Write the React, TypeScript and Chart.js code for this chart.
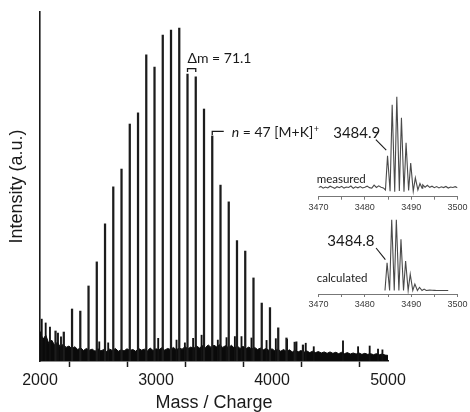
import React, { useEffect, useRef } from "react";
import { Chart, registerables } from "chart.js";
Chart.register(...registerables);

const SANS = '"Liberation Sans", Arial, sans-serif';
const LATO = 'Lato, "Open Sans", sans-serif';
const INK = "#1a1a1a";

// ---------- main spectrum data ----------
const xAxisMin = 2000;
const xAxisMax = 5000;
const xLabelTicks = [2000, 3000, 4000, 5000];

// polymer series (Δm = 71.1), n = 47 at 3484.9
const peakMasses = [
  2134.0, 2205.1, 2276.2, 2347.3, 2418.4, 2489.5, 2560.6, 2631.7, 2702.8, 2773.9,
  2845.0, 2916.1, 2987.2, 3058.3, 3129.4, 3200.5, 3271.6, 3342.7, 3413.8, 3484.9,
  3556.0, 3627.1, 3698.2, 3769.3, 3840.4, 3911.5, 3982.6, 4053.7, 4124.8, 4195.9, 4267.0,
];
const peakHeights = [
  8.6, 8.3, 14.9, 14.3, 21.5, 28.4, 39.3, 49.9, 55.0, 67.9,
  71.1, 87.7, 84.2, 93.4, 94.8, 95.4, 82.2, 81.4, 72.2, 64.5,
  50.4, 45.6, 34.5, 31.5, 23.8, 16.6, 15.3, 9.5, 6.6, 5.4, 4.6,
];

// noise floor (every 25 Da from 2000 to 5000)
const noiseStep = 25;
const noiseLevels = [
  8.5, 6.2, 7.4, 5.1, 6.0, 4.6, 5.4, 4.0, 4.8, 3.9, 4.3, 3.5, 4.1, 3.3, 3.8, 3.0,
  3.6, 3.1, 3.4, 2.8, 3.5, 2.9, 3.3, 2.7, 3.4, 3.0, 3.6, 2.8, 3.2, 2.9, 3.5, 3.0,
  3.3, 2.8, 3.6, 3.1, 3.4, 2.9, 3.7, 3.0, 3.5, 3.2, 3.8, 3.1, 3.6, 3.3, 3.9, 3.2,
  3.7, 3.4, 4.1, 3.5, 4.0, 3.6, 4.3, 3.7, 4.4, 3.8, 4.6, 3.9, 4.5, 4.0, 4.7, 3.9,
  4.4, 3.8, 4.5, 3.7, 4.3, 3.6, 4.2, 3.5, 4.0, 3.4, 3.9, 3.3, 3.7, 3.2, 3.6, 3.0,
  3.5, 2.9, 3.4, 2.8, 3.3, 2.7, 3.2, 2.6, 3.1, 2.6, 3.0, 2.5, 2.9, 2.4, 2.8, 2.4,
  2.7, 2.3, 2.6, 2.2, 2.6, 2.2, 2.5, 2.1, 2.5, 2.1, 2.4, 2.0, 2.3, 2.0, 2.3, 1.9,
  2.2, 1.9, 2.1, 1.8, 2.1, 1.8, 2.0, 1.7, 1.6,
];

// isolated noise spikes above the floor
const spikeMasses = [
  2015, 2049, 2086, 2155, 2181, 2511, 2588, 3019, 3177, 3249, 3320, 3393, 3533,
  3608, 3680, 3737, 3823, 3953, 4033, 4130, 4211, 4291, 4360, 4612, 4742, 4842, 4914, 4952,
];
const spikeHeights = [
  12.0, 10.9, 9.7, 8.0, 6.9, 5.5, 5.2, 6.5, 6.0, 5.2, 6.5, 7.4, 6.0,
  6.7, 7.0, 7.0, 6.6, 5.9, 6.4, 6.2, 5.5, 5.1, 4.1, 5.8, 4.1, 4.3, 3.4, 3.2,
];

const deltaPeakA = 3271.6;
const deltaPeakB = 3342.7;
const deltaLabel = "\u0394m = 71.1";
const nPeakMass = 3484.9;

// ---------- inset data ----------
const insetMin = 3470;
const insetMax = 3500;

const measuredPeakMasses = [3484.9, 3485.9, 3486.9, 3487.9, 3488.9, 3489.9, 3490.9, 3491.9];
const measuredPeakHeights = [36, 91, 100, 77, 50, 28, 12, 6];
const measuredValleys = [-1, -2.5, -3, -2, -3, -1.5, -2.5, -1, 1];
const measuredNoiseStep = 0.5;
const measuredNoiseLeftStart = 3470;
const measuredNoiseLeft = [
  1.5, 2.8, 0.9, 2.2, 1.2, 3.0, 1.8, 0.7, 2.5, 1.4, 2.9, 1.0, 2.1, 1.6, 3.2,
  0.8, 2.4, 1.3, 2.7, 1.1, 2.0, 3.1, 1.5, 0.9, 4.2, 1.7, 3.4, 2.0, 1.2,
];
const measuredNoiseRightStart = 3492.5;
const measuredNoiseRight = [
  4.5, 2.0, 4.0, 1.8, 3.0, 1.5, 2.6, 1.2, 2.4, 1.6, 2.8, 1.1, 2.2, 1.7, 2.5, 1.3,
];

const calculatedPeakMasses = [3484.8, 3485.8, 3486.8, 3487.8, 3488.8, 3489.8, 3490.8, 3491.8, 3492.8];
const calculatedPeakHeights = [39, 100, 100, 72, 41.5, 23, 9, 4.5, 2];
const calculatedValleys = [0, 0, 0, 0, 0, 0, 0, 0, 0, 0];
const calculatedTailStart = 3494;
const calculatedTail = [0.6, 0.3, 0.2, 0.1, 0, 0, 0, 0, 0];
const calculatedTailStep = 0.5;

type Pt = { x: number; y: number };

function buildTrace(
  leftStart: number | null,
  left: number[],
  step: number,
  masses: number[],
  heights: number[],
  valleys: number[],
  rightStart: number,
  right: number[],
  rightStep: number
): Pt[] {
  const pts: Pt[] = [];
  if (leftStart !== null) left.forEach((v, i) => pts.push({ x: leftStart + i * step, y: v }));
  masses.forEach((m, i) => {
    pts.push({ x: m - 0.45, y: valleys[i] });
    pts.push({ x: m, y: heights[i] });
  });
  pts.push({ x: masses[masses.length - 1] + 0.45, y: valleys[masses.length] });
  right.forEach((v, i) => pts.push({ x: rightStart + i * rightStep, y: v }));
  return pts;
}

function makeMain(canvas: HTMLCanvasElement) {
  const noiseData = noiseLevels.map((v, i) => ({ x: xAxisMin + i * noiseStep, y: v }));
  const peakData = peakMasses.map((m, i) => ({ x: m, y: peakHeights[i] }));
  const spikeData = spikeMasses.map((m, i) => ({ x: m, y: spikeHeights[i] }));

  const annotate = {
    id: "annotate",
    afterDatasetsDraw(chart: any) {
      const { ctx, scales } = chart;
      const xs = scales.x;
      const ys = scales.y;
      const ia = peakMasses.indexOf(deltaPeakA);
      const ib = peakMasses.indexOf(deltaPeakB);
      const xa = xs.getPixelForValue(deltaPeakA);
      const xb = xs.getPixelForValue(deltaPeakB);
      const topA = ys.getPixelForValue(peakHeights[ia]);
      const topB = ys.getPixelForValue(peakHeights[ib]);
      const yb = Math.min(topA, topB) - 5.5;
      ctx.save();
      ctx.strokeStyle = INK;
      ctx.fillStyle = INK;
      ctx.lineWidth = 1.3;
      ctx.beginPath();
      ctx.moveTo(xa, yb + 3.5);
      ctx.lineTo(xa, yb);
      ctx.lineTo(xb, yb);
      ctx.lineTo(xb, yb + 3.5);
      ctx.stroke();
      ctx.font = `14px ${LATO}`;
      ctx.textBaseline = "alphabetic";
      ctx.textAlign = "left";
      ctx.fillText(deltaLabel, xa, yb - 5.5);

      // n = 47 [M+K]+
      const i0 = peakMasses.indexOf(nPeakMass);
      const x0 = xs.getPixelForValue(nPeakMass);
      const top0 = ys.getPixelForValue(peakHeights[i0]);
      const by = top0 - 4.5;
      ctx.beginPath();
      ctx.moveTo(x0, top0 - 1);
      ctx.lineTo(x0, by);
      ctx.lineTo(x0 + 11.5, by);
      ctx.stroke();
      let tx = x0 + 19.5;
      const ty = top0 + 1.5;
      ctx.font = `italic 14px ${LATO}`;
      ctx.fillText("n", tx, ty);
      tx += ctx.measureText("n").width;
      ctx.font = `14px ${LATO}`;
      const mid = " = 47 [M+K]";
      ctx.fillText(mid, tx, ty);
      tx += ctx.measureText(mid).width + 0.5;
      ctx.font = `9px ${LATO}`;
      ctx.fillText("+", tx, ty - 5.5);
      ctx.restore();
    },
  };

  return new Chart(canvas, {
    type: "line",
    data: {
      datasets: [
        {
          type: "bar",
          label: "peaks",
          data: peakData,
          backgroundColor: "#1c1c1c",
          borderWidth: 0,
          barThickness: 1.6,
          grouped: false,
          order: 1,
        } as any,
        {
          type: "bar",
          label: "spikes",
          data: spikeData,
          backgroundColor: "#111",
          borderWidth: 0,
          barThickness: 1.2,
          grouped: false,
          order: 2,
        } as any,
        {
          type: "line",
          label: "noise",
          data: noiseData,
          borderColor: "#0a0a0a",
          backgroundColor: "#0a0a0a",
          borderWidth: 1,
          pointRadius: 0,
          fill: "origin",
          tension: 0,
          order: 3,
        } as any,
      ],
    },
    options: {
      animation: false,
      responsive: false,
      maintainAspectRatio: false,
      events: [],
      layout: { padding: { top: 12, right: 82, left: 0, bottom: 0 } },
      plugins: { legend: { display: false }, tooltip: { enabled: false } },
      scales: {
        x: {
          type: "linear",
          min: xAxisMin,
          max: xAxisMax,
          offset: false,
          afterFit: (s: any) => {
            s.height = 51;
          },
          afterBuildTicks: (s: any) => {
            const t: any[] = [];
            for (let v = xAxisMin; v <= xAxisMax; v += 500) t.push({ value: v });
            s.ticks = t;
          },
          ticks: {
            autoSkip: false,
            maxRotation: 0,
            padding: 4,
            color: INK,
            font: { family: SANS, size: 16 },
            callback: (v: any) => (xLabelTicks.includes(Number(v)) ? String(v) : ""),
          },
          grid: {
            display: true,
            drawOnChartArea: false,
            drawTicks: true,
            tickLength: 6,
            tickWidth: 1.5,
            tickColor: INK,
          },
          border: { display: true, color: INK, width: 1.6 },
          title: {
            display: true,
            text: "Mass / Charge",
            color: INK,
            font: { family: SANS, size: 18, lineHeight: 1 },
            padding: { top: 0, bottom: 0 },
          },
        },
        y: {
          min: 0,
          max: 100,
          afterFit: (s: any) => {
            s.width = 40;
          },
          ticks: { display: false },
          grid: { display: false, drawTicks: false },
          border: { display: true, color: INK, width: 1.6 },
          title: {
            display: true,
            text: "Intensity (a.u.)",
            color: INK,
            font: { family: SANS, size: 18, lineHeight: 1 },
            padding: { top: 8.5, bottom: 0 },
          },
        },
      },
    } as any,
    plugins: [annotate],
  });
}

type InsetCfg = {
  data: Pt[];
  yMin: number;
  padTop: number;
  axisSpace: number;
  peakMass: number;
  peakHeight: number;
  label: string;
  caption: string;
  lead: [number, number, number, number];
  labelPos: [number, number];
  captionPos: [number, number];
};

function makeInset(canvas: HTMLCanvasElement, cfg: InsetCfg) {
  const annotate = {
    id: "insetAnnotate",
    afterDatasetsDraw(chart: any) {
      const { ctx, scales, chartArea } = chart;
      const px = scales.x.getPixelForValue(cfg.peakMass);
      const py = scales.y.getPixelForValue(cfg.peakHeight);
      const base = scales.y.getPixelForValue(0);
      ctx.save();
      ctx.strokeStyle = INK;
      ctx.fillStyle = INK;
      ctx.lineWidth = 1.1;
      ctx.beginPath();
      ctx.moveTo(px + cfg.lead[0], py + cfg.lead[1]);
      ctx.lineTo(px + cfg.lead[2], py + cfg.lead[3]);
      ctx.stroke();
      ctx.font = `15px ${LATO}`;
      ctx.textAlign = "right";
      ctx.textBaseline = "middle";
      ctx.fillText(cfg.label, px + cfg.labelPos[0], py + cfg.labelPos[1]);
      ctx.font = `11.5px ${LATO}`;
      ctx.textAlign = "left";
      ctx.fillText(cfg.caption, chartArea.left + cfg.captionPos[0], base + cfg.captionPos[1]);
      ctx.restore();
    },
  };
  return new Chart(canvas, {
    type: "line",
    data: {
      datasets: [
        {
          data: cfg.data,
          borderColor: "#4a4a4a",
          borderWidth: 1.1,
          pointRadius: 0,
          fill: false,
          tension: 0,
        },
      ],
    },
    options: {
      animation: false,
      responsive: false,
      maintainAspectRatio: false,
      events: [],
      layout: { padding: { top: cfg.padTop, left: 18.5, right: 12.5, bottom: 0 } },
      plugins: { legend: { display: false }, tooltip: { enabled: false } },
      scales: {
        x: {
          type: "linear",
          min: insetMin,
          max: insetMax,
          offset: false,
          afterFit: (s: any) => {
            s.height = cfg.axisSpace;
          },
          afterBuildTicks: (s: any) => {
            const t: any[] = [];
            for (let v = insetMin; v <= insetMax; v += 5) t.push({ value: v });
            s.ticks = t;
          },
          ticks: {
            autoSkip: false,
            maxRotation: 0,
            padding: 2,
            color: "#3a3a3a",
            font: { family: SANS, size: 9 },
            callback: (v: any) => (Number(v) % 10 === 0 ? String(v) : ""),
          },
          grid: {
            display: true,
            drawOnChartArea: false,
            drawTicks: true,
            tickLength: 3,
            tickWidth: 1,
            tickColor: "#777",
          },
          border: { display: true, color: "#777", width: 1 },
        },
        y: { display: false, min: cfg.yMin, max: 100 },
      },
    } as any,
    plugins: [annotate],
  });
}

export default function App() {
  const mainRef = useRef<HTMLCanvasElement>(null);
  const measRef = useRef<HTMLCanvasElement>(null);
  const calcRef = useRef<HTMLCanvasElement>(null);

  useEffect(() => {
    const measuredData = buildTrace(
      measuredNoiseLeftStart,
      measuredNoiseLeft,
      measuredNoiseStep,
      measuredPeakMasses,
      measuredPeakHeights,
      measuredValleys,
      measuredNoiseRightStart,
      measuredNoiseRight,
      measuredNoiseStep
    );
    const calculatedData = buildTrace(
      null,
      [],
      0.5,
      calculatedPeakMasses,
      calculatedPeakHeights,
      calculatedValleys,
      calculatedTailStart,
      calculatedTail,
      calculatedTailStep
    );
    const charts = [
      makeMain(mainRef.current!),
      makeInset(measRef.current!, {
        data: measuredData,
        yMin: -8.3,
        padTop: 6.5,
        axisSpace: 18.3,
        peakMass: measuredPeakMasses[0],
        peakHeight: measuredPeakHeights[0],
        label: "3484.9",
        caption: "measured",
        lead: [-1.3, -5.5, -11.7, -16.2],
        labelPos: [-7.3, -23],
        captionPos: [-1.8, -9.5],
      }),
      makeInset(calcRef.current!, {
        data: calculatedData,
        yMin: -4.9,
        padTop: 4.5,
        axisSpace: 18,
        peakMass: calculatedPeakMasses[0],
        peakHeight: calculatedPeakHeights[0],
        label: "3484.8",
        caption: "calculated",
        lead: [-1.7, -3.2, -11, -14.8],
        labelPos: [-12.7, -21.2],
        captionPos: [-1.8, -12],
      }),
    ];
    return () => charts.forEach((c) => c.destroy());
  }, []);

  return (
    <div style={{ position: "fixed", left: 0, top: 0, width: 470, height: 412, background: "#fff" }}>
      <canvas
        ref={mainRef}
        width={470}
        height={412}
        style={{ position: "absolute", left: 0, top: 0, width: 470, height: 412, display: "block" }}
      />
      <canvas
        ref={measRef}
        width={170}
        height={125}
        style={{ position: "absolute", left: 300, top: 90, width: 170, height: 125, display: "block" }}
      />
      <canvas
        ref={calcRef}
        width={170}
        height={97}
        style={{ position: "absolute", left: 300, top: 215, width: 170, height: 97, display: "block" }}
      />
    </div>
  );
}
